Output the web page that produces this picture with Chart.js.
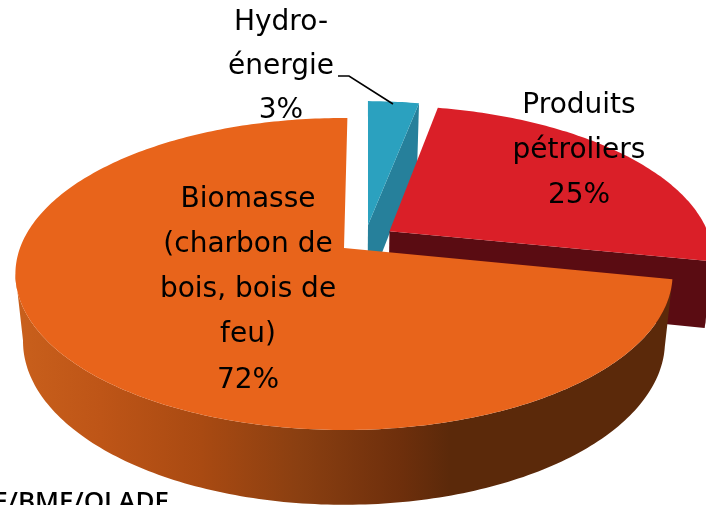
<!DOCTYPE html>
<html><head><meta charset="utf-8">
<style>html,body{margin:0;padding:0;background:#fff;overflow:hidden}canvas{display:block}</style>
<script src="https://cdn.jsdelivr.net/npm/chart.js@4"></script>
</head><body><canvas id="c" width="706" height="505"></canvas>
<script>
const categories = ["Hydro-énergie", "Produits pétroliers", "Biomasse (charbon de bois, bois de feu)"];
const values = [3, 25, 72];
const labelLines = [["Hydro-", "énergie"], ["Produits", "pétroliers"], ["Biomasse", "(charbon de", "bois, bois de", "feu)"]];
const sourceText = "SIE/BME/OLADE";

/* view: perspective disc, top plane z=0, bottom plane z=1 */
const VIEW = {cx:344, p:1/6, b:[324,316.5], y0:[248,314], a:[151.67,159]};
const EXPLODE = [[0.076,-0.155],[0.143,-0.113],[0,0]];
const TOP = ["#2BA1BF","#DA1F28","#E8641B"];
const WALL = ["#26809B","#5A0C12","#5B290A"];
const LABEL_POS = [[281,22.5,44],[579,105.5,45],[248,199.5,45.2]];

function proj(u,v,z){
  const w=1-VIEW.p*v, l=(r)=>r[0]+(r[1]-r[0])*z;
  return [VIEW.cx+l(VIEW.b)*u/w, l(VIEW.y0)+l(VIEW.a)*v/w];
}
function rimPts(s,e,dx,dy,z){
  const n=Math.max(8,Math.ceil((e-s)*60)),pts=[];
  for(let i=0;i<=n;i++){const a=s+(e-s)*i/n;pts.push(proj(dx+Math.cos(a),dy+Math.sin(a),z));}
  return pts;
}
function poly(ctx,pts,fill){
  ctx.beginPath();pts.forEach((q,i)=>i?ctx.lineTo(q[0],q[1]):ctx.moveTo(q[0],q[1]));ctx.closePath();
  ctx.fillStyle=fill;ctx.fill();
}
/* outer wall: only the run of the rim that faces the viewer (x decreasing with angle) */
function drawFrontWall(ctx,r0,r1,fill){
  let k=0;
  while(k<r0.length-1){
    if(r0[k+1][0]<r0[k][0]){
      let j=k+1;
      while(j<r0.length-1&&r0[j+1][0]<r0[j][0])j++;
      poly(ctx,r0.slice(k,j+1).concat(r1.slice(k,j+1).reverse()),fill);
      k=j;
    } else k++;
  }
}
const pie3d={
  id:'pie3d',
  beforeDatasetsDraw(chart){
    const ctx=chart.ctx,arcs=chart.getDatasetMeta(0).data;
    const grad=ctx.createLinearGradient(14,0,706,0);
    [[0,"#C9601C"],[0.125,"#BE5517"],[0.27,"#A94A12"],[0.413,"#8A3F11"],[0.558,"#6E2F0C"],[0.63,"#5B290A"],[1,"#5B290A"]]
      .forEach(s=>grad.addColorStop(s[0],s[1]));
    ctx.save();
    arcs.forEach((arc,i)=>{
      const s=arc.startAngle,e=arc.endAngle,[dx,dy]=EXPLODE[i];
      const wallFill=i===2?grad:WALL[i];
      const A0=proj(dx,dy,0),A1=proj(dx,dy,1);
      const r0=rimPts(s,e,dx,dy,0),r1=rimPts(s,e,dx,dy,1);
      if(i!==2){
        poly(ctx,[A0,r0[r0.length-1],r1[r1.length-1],A1],wallFill);
      }
      drawFrontWall(ctx,r0,r1,wallFill);
      poly(ctx,[A0].concat(r0),TOP[i]);
    });
    ctx.restore();
    return false;
  },
  afterDraw(chart){
    const ctx=chart.ctx;
    ctx.save();
    ctx.strokeStyle="#000";ctx.lineWidth=1.6;
    ctx.beginPath();ctx.moveTo(338,76);ctx.lineTo(349,76);ctx.lineTo(393,104);ctx.stroke();
    ctx.fillStyle="#000";ctx.textBaseline="middle";ctx.textAlign="center";
    ctx.font='28px "DejaVu Sans"';
    labelLines.forEach((lines,i)=>{
      const [x,y,h]=LABEL_POS[i];
      lines.concat([values[i]+"%"]).forEach((t,j)=>ctx.fillText(t,x,y+j*h));
    });
    ctx.textAlign="right";ctx.textBaseline="alphabetic";
    ctx.font='600 26px "Open Sans"';
    ctx.fillText(sourceText,169,509.5);
    ctx.restore();
  }
};
new Chart(document.getElementById('c'),{
  type:'pie',
  data:{labels:categories,datasets:[{data:values,backgroundColor:TOP,borderWidth:0}]},
  options:{responsive:false,animation:false,rotation:0.7,
    plugins:{legend:{display:false},tooltip:{enabled:false},title:{display:false}}},
  plugins:[pie3d]
});
</script></body></html>
